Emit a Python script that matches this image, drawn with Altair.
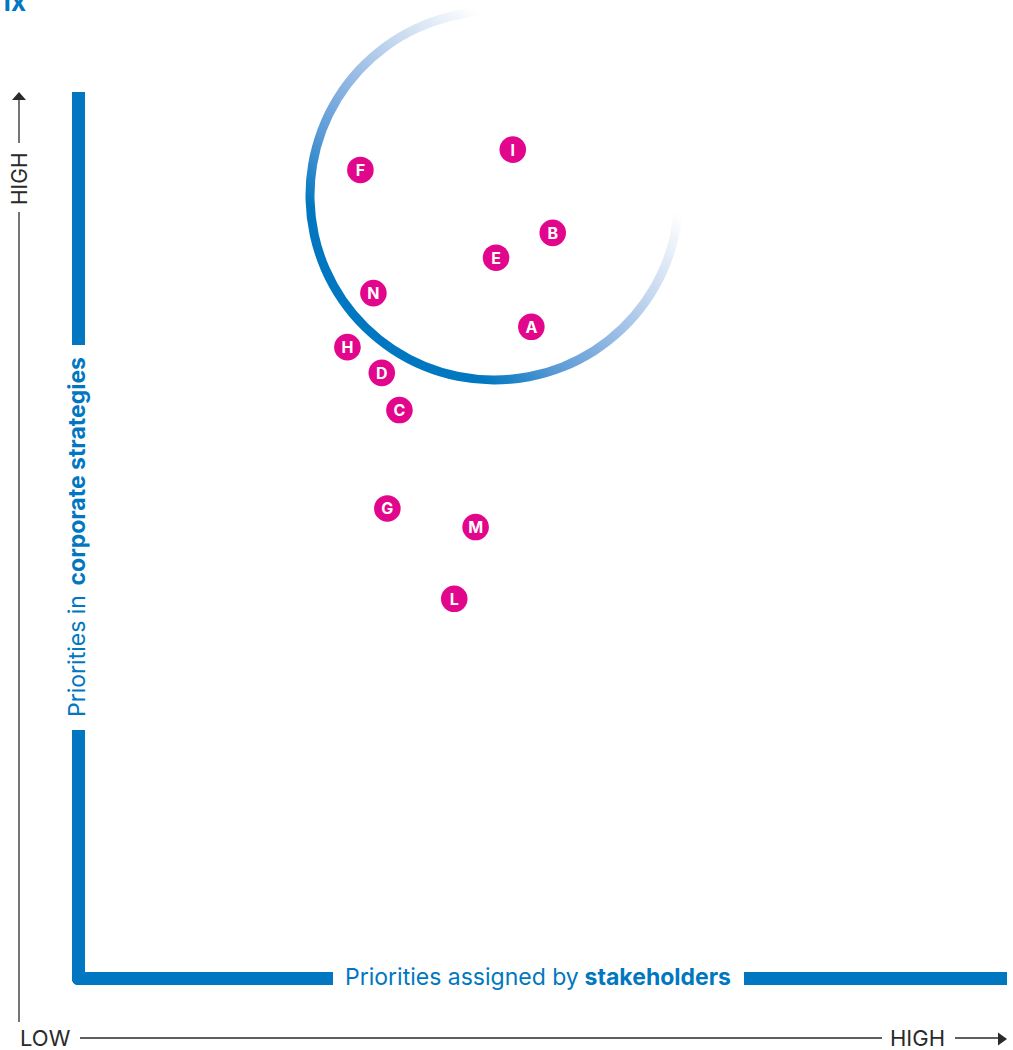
import altair as alt
import pandas as pd

# ---- data ----
labels = ["F", "I", "B", "E", "N", "A", "H", "D", "C", "G", "M", "L"]
stakeholders = [3.04, 4.68, 5.11, 4.50, 3.18, 4.88, 2.90, 3.27, 3.46, 3.33, 4.28, 4.05]
corporate = [9.12, 9.35, 8.41, 8.13, 7.73, 7.35, 7.12, 6.83, 6.41, 5.30, 5.09, 4.28]

TITLE_FRAG = "ix"
X_TITLE_A = "Priorities assigned by "
X_TITLE_B = "stakeholders"
Y_TITLE_A = "Priorities in "
Y_TITLE_B = "corporate strategies"
LOW = "LOW"
HIGH = "HIGH"

BLUE = "#0077C0"
MAGENTA = "#E2068C"
DARK = "#2a2a2a"
FONT = "Inter"

df = pd.DataFrame({"label": labels, "x": stakeholders, "y": corporate})
one = pd.DataFrame({"k": [0]})

xs = alt.Scale(domain=[0, 10], range=[78, 1007])
ys = alt.Scale(domain=[0, 10], range=[978, 92])

def deco():
    return alt.Chart(one)

# gradient circle arc
arc = deco().mark_arc(
    theta=1.606, theta2=6.23, radius=189, radius2=180,
    fill={
        "gradient": "linear", "x1": 1, "y1": 0, "x2": 0, "y2": 1,
        "stops": [
            {"offset": 0.28, "color": "#FFFFFF"},
            {"offset": 0.42, "color": "#C8DAF0"},
            {"offset": 0.55, "color": "#8DB5E2"},
            {"offset": 0.65, "color": "#5A9AD5"},
            {"offset": 0.76, "color": BLUE},
        ],
    },
    stroke=None,
).encode(x=alt.value(494.5), y=alt.value(195.5))

# thick blue L frame
def bar(x1, x2, y1, y2, corner=0):
    return deco().mark_rect(color=BLUE, cornerRadiusBottomLeft=corner).encode(
        x=alt.value(x1), x2=alt.value(x2), y=alt.value(y1), y2=alt.value(y2))

bars = [
    bar(72, 85, 92, 345),
    bar(72, 85, 730, 985, 6),
    bar(72, 333, 972, 985, 6),
    bar(744, 1007, 972, 985),
]

# thin black axes
def rule(x1, y1, x2, y2):
    return deco().mark_rule(color=DARK, strokeWidth=1.3).encode(
        x=alt.value(x1), y=alt.value(y1), x2=alt.value(x2), y2=alt.value(y2))

rules = [
    rule(19, 97, 19, 143),
    rule(19, 212, 19, 1022),
    rule(80, 1038, 882, 1038),
    rule(955, 1038, 1000, 1038),
]

arrow_up = deco().mark_point(
    shape="M-1,0.57L1,0.57L0,-0.57Z", filled=True, color=DARK, opacity=1, size=196
).encode(x=alt.value(19), y=alt.value(96))
arrow_right = deco().mark_point(
    shape="M-0.69,-1L0.69,0L-0.69,1Z", filled=True, color=DARK, opacity=1, size=169
).encode(x=alt.value(1002.5), y=alt.value(1039))

def txt(s, x, y, size=20, color=DARK, weight="normal", align="left", angle=0, baseline="alphabetic"):
    kw = dict(text=s, font=FONT, fontSize=size, color=color, fontWeight=weight,
              align=align, baseline=baseline)
    if angle:
        kw["angle"] = angle
    return deco().mark_text(**kw).encode(x=alt.value(x), y=alt.value(y))

texts = [
    txt(TITLE_FRAG, 26, 11, size=26, color=BLUE, weight="bold", align="right"),
    txt(LOW, 20, 1046, size=22),
    txt(HIGH, 945, 1046, size=22, align="right"),
    txt(HIGH, 27, 205, size=21, angle=270),
    txt(X_TITLE_A, 345, 985, size=23, color=BLUE),
    txt(X_TITLE_B, 731, 985, size=23, color=BLUE, weight="bold", align="right"),
    txt(Y_TITLE_A, 85, 717, size=23, color=BLUE, angle=270),
    txt(Y_TITLE_B, 85, 357, size=23, color=BLUE, weight="bold", align="right", angle=270),
]

base = alt.Chart(df).encode(
    x=alt.X("x:Q", scale=xs, axis=None),
    y=alt.Y("y:Q", scale=ys, axis=None),
)
dots = base.mark_circle(color=MAGENTA, opacity=1, size=707)
dot_labels = base.mark_text(color="white", font=FONT, fontWeight="bold", fontSize=16,
                            baseline="middle", dy=1).encode(text="label:N")

chart = alt.layer(
    arc, *bars, *rules, arrow_up, arrow_right, *texts, dots, dot_labels
).properties(
    width=1013, height=1050, padding=0, autosize=alt.AutoSizeParams(type="none"),
    background="white",
).configure_view(stroke=None)

chart.save("out.html", embed_options={"renderer": "svg", "actions": False})
